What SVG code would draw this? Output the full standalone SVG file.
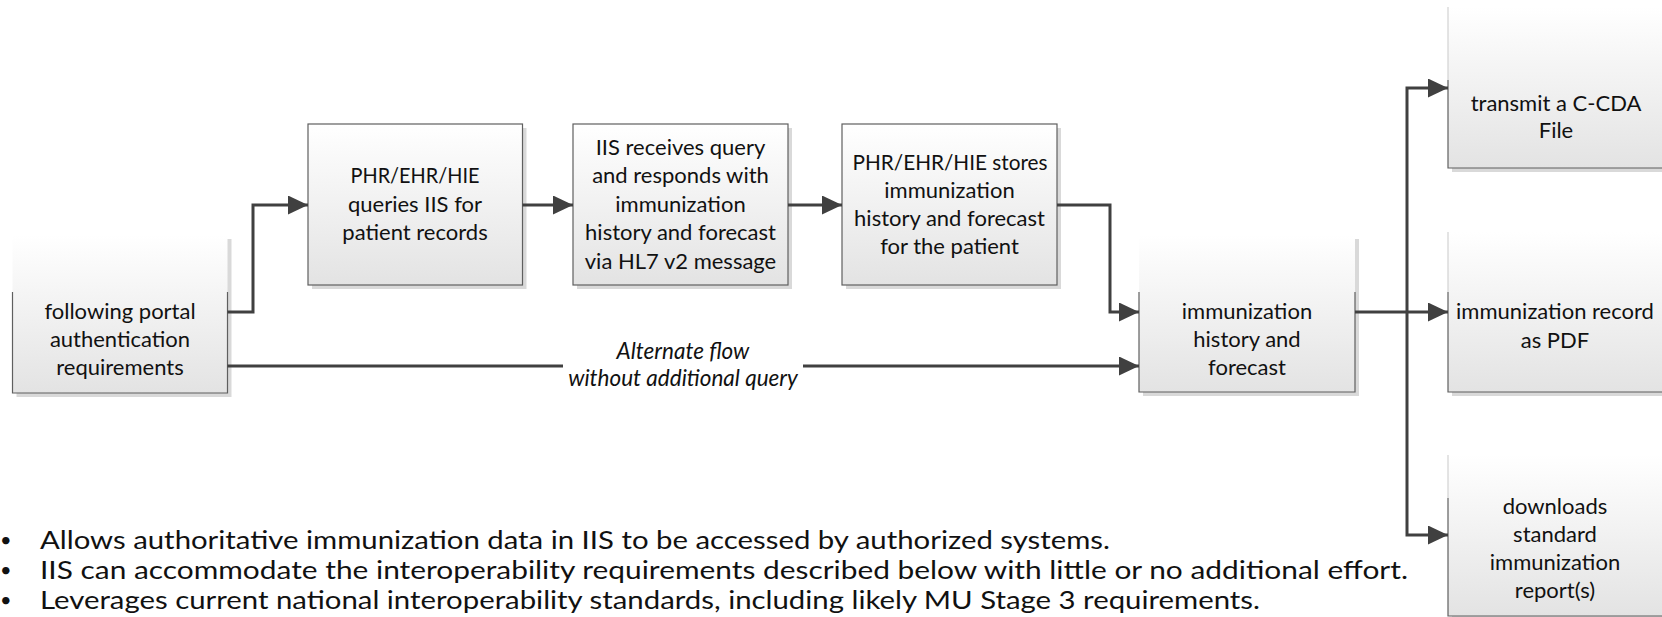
<svg xmlns="http://www.w3.org/2000/svg" width="1662" height="617" viewBox="0 0 1662 617">
<style>
text{font-family:Lato,"Open Sans","Liberation Sans",sans-serif;fill:#111;}
.t{font-size:22px;text-anchor:middle;}
.i{font-size:22.5px;font-style:italic;text-anchor:middle;}
.b{font-size:25px;}
.d{font-size:20px;}
.shadow{fill:#d9d9d9;}
.box{fill:url(#g);stroke:#5f5f5f;stroke-width:1.2;}
.fade{fill:url(#g);stroke:none;}
.edge{fill:none;stroke:#5f5f5f;stroke-width:1.2;}
.faint{fill:none;stroke:#d2d2d2;stroke-width:1.2;}
.c{fill:none;stroke:#404040;stroke-width:3;}
</style>
<defs>
<linearGradient id="g" x1="0" y1="0" x2="0" y2="1">
<stop offset="0" stop-color="#ffffff"/>
<stop offset="1" stop-color="#e3e3e3"/>
</linearGradient>
<marker id="a" markerUnits="userSpaceOnUse" markerWidth="21" markerHeight="20" refX="20" refY="9.5" orient="auto">
<path d="M0,0 L20,9.5 L0,19 z" fill="#404040"/>
</marker>
</defs>
<rect width="1662" height="617" fill="#ffffff"/>

<g id="node-portal">
<rect class="shadow" x="16.5" y="239" width="215" height="158"/>
<rect class="fade" x="12.5" y="235" width="215" height="158"/>
<path class="edge" d="M12.5,292 V393 H227.5 V292"/>
<text class="t" x="120" y="319">following portal</text>
<text class="t" x="120" y="347">authentication</text>
<text class="t" x="120" y="375">requirements</text>
</g>

<g id="node-query">
<rect class="shadow" x="312" y="128" width="214.5" height="161"/>
<rect class="box" x="308" y="124" width="214.5" height="161"/>
<text class="t" x="415" y="183" textLength="129" lengthAdjust="spacingAndGlyphs">PHR/EHR/HIE</text>
<text class="t" x="415" y="212">queries IIS for</text>
<text class="t" x="415" y="240">patient records</text>
</g>

<g id="node-iis">
<rect class="shadow" x="577" y="128" width="215" height="161"/>
<rect class="box" x="573" y="124" width="215" height="161"/>
<text class="t" x="680.5" y="155">IIS receives query</text>
<text class="t" x="680.5" y="183">and responds with</text>
<text class="t" x="680.5" y="212">immunization</text>
<text class="t" x="680.5" y="240">history and forecast</text>
<text class="t" x="680.5" y="269">via HL7 v2 message</text>
</g>

<g id="node-stores">
<rect class="shadow" x="846" y="128" width="215" height="161"/>
<rect class="box" x="842" y="124" width="215" height="161"/>
<text class="t" x="950" y="170" textLength="195" lengthAdjust="spacingAndGlyphs">PHR/EHR/HIE stores</text>
<text class="t" x="949.5" y="198">immunization</text>
<text class="t" x="949.5" y="226">history and forecast</text>
<text class="t" x="949.5" y="254">for the patient</text>
</g>

<g id="node-view">
<rect class="shadow" x="1143" y="239" width="216" height="157"/>
<rect class="fade" x="1139" y="235" width="216" height="157"/>
<path class="edge" d="M1139,292 V392 H1355 V292"/>
<text class="t" x="1247" y="319">immunization</text>
<text class="t" x="1247" y="347">history and</text>
<text class="t" x="1247" y="375">forecast</text>
</g>

<g id="node-ccda">
<rect class="shadow" x="1452" y="11" width="216" height="161"/>
<rect class="fade" x="1448" y="7" width="216" height="161"/>
<path class="faint" d="M1448,7 V80"/>
<path class="edge" d="M1448,80 V168 H1664"/>
<text class="t" x="1556" y="111">transmit a C-CDA</text>
<text class="t" x="1556" y="138">File</text>
</g>

<g id="node-pdf">
<rect class="shadow" x="1452" y="236" width="216" height="160"/>
<rect class="fade" x="1448" y="232" width="216" height="160"/>
<path class="faint" d="M1448,232 V292"/>
<path class="edge" d="M1448,292 V392 H1664"/>
<text class="t" x="1555" y="319">immunization record</text>
<text class="t" x="1555" y="348">as PDF</text>
</g>

<g id="node-download">
<rect class="shadow" x="1452" y="459" width="216" height="161"/>
<rect class="fade" x="1448" y="455" width="216" height="161"/>
<path class="faint" d="M1448,455 V498"/>
<path class="edge" d="M1448,498 V616 H1664"/>
<text class="t" x="1555" y="514">downloads</text>
<text class="t" x="1555" y="542">standard</text>
<text class="t" x="1555" y="570">immunization</text>
<text class="t" x="1555" y="598">report(s)</text>
</g>

<g id="connectors">
<path class="c" d="M227.5,312 H253 V205 H308" marker-end="url(#a)"/>
<path class="c" d="M522.5,205 H573" marker-end="url(#a)"/>
<path class="c" d="M788,205 H842" marker-end="url(#a)"/>
<path class="c" d="M1057,205 H1110 V312 H1139" marker-end="url(#a)"/>
<path class="c" d="M227.5,366 H563"/>
<path class="c" d="M803,366 H1139" marker-end="url(#a)"/>
<path class="c" d="M1355,312 H1448" marker-end="url(#a)"/>
<path class="c" d="M1407,312 V88 H1448" marker-end="url(#a)"/>
<path class="c" d="M1407,312 V535 H1448" marker-end="url(#a)"/>
<text class="i" x="683" y="359">Alternate flow</text>
<text class="i" x="683" y="386">without additional query</text>
</g>

<g id="bullets">
<text class="d" x="0" y="547">•</text>
<text class="d" x="0" y="577">•</text>
<text class="d" x="0" y="607">•</text>
<text class="b" x="40" y="549" textLength="1070" lengthAdjust="spacingAndGlyphs">Allows authoritative immunization data in IIS to be accessed by authorized systems.</text>
<text class="b" x="40" y="579" textLength="1368" lengthAdjust="spacingAndGlyphs">IIS can accommodate the interoperability requirements described below with little or no additional effort.</text>
<text class="b" x="40" y="609" textLength="1220" lengthAdjust="spacingAndGlyphs">Leverages current national interoperability standards, including likely MU Stage 3 requirements.</text>
</g>
</svg>
